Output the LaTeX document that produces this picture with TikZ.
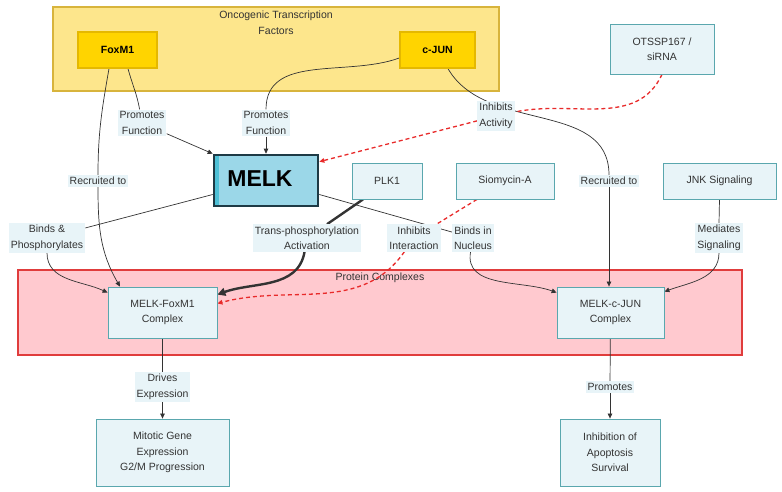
\documentclass[tikz,border=0pt]{standalone}
\usepackage{fontspec}
\setmainfont{Liberation Sans}
\usepackage{xcolor}
\usepackage{tikz}
\usetikzlibrary{arrows.meta}
\usetikzlibrary{backgrounds}
\definecolor{txt}{HTML}{333333}
\definecolor{boxfill}{HTML}{E8F4F8}
\definecolor{boxline}{HTML}{5AA7AE}
\definecolor{grpyfill}{HTML}{FDE68C}
\definecolor{grpyline}{HTML}{D8B43C}
\definecolor{tffill}{HTML}{FFD400}
\definecolor{tfline}{HTML}{E5B800}
\definecolor{grprfill}{HTML}{FFC9CF}
\definecolor{grprline}{HTML}{E03C3C}
\definecolor{melkfill}{HTML}{9BD7E8}
\definecolor{melkbar}{HTML}{4EC0D6}
\definecolor{melkline}{HTML}{1E3A45}
\definecolor{lnk}{HTML}{333333}
\definecolor{inhib}{HTML}{E82A2A}
\newcommand\lblsize{\fontsize{10.5}{15.5}\selectfont}
\tikzset{
  basenode/.style = {align=center, text=txt, font=\lblsize, inner sep=2pt},
  grp_y/.style = {draw=grpyline, fill=grpyfill, line width=1.5pt},% groupe jaune
  grp_r/.style = {draw=grprline, fill=grprfill, line width=1.5pt},% groupe rose
  tf/.style = {basenode, draw=tfline, fill=tffill, line width=1.3pt,
    font=\lblsize\bfseries, text=black},% facteur de transcription
  box/.style = {basenode, draw=boxline, fill=boxfill, line width=0.8pt},
  lbl/.style = {basenode, fill=boxfill},% etiquette d'arete
  melk/.style = {basenode, draw=melkline, fill=melkfill, line width=2.6pt,
    text=black, font=\fontsize{23}{26}\selectfont\bfseries,
    path picture={\fill[melkbar] (path picture bounding box.north west)
      rectangle ([xshift=5pt]path picture bounding box.south west);}},
  edge_n/.style = {draw=lnk, line width=0.7pt},
  edge_t/.style = {draw=lnk, line width=2.4pt},
  edge_d/.style = {draw=inhib, line width=1.3pt, dash pattern=on 4pt off 3pt}
}

\begin{document}
\begin{tikzpicture}[x=1pt,y=1pt,>={Triangle[length=5pt,width=4.5pt]}]
\useasboundingbox (0,0) rectangle (782,-492);

% noeuds
\node [tf, minimum width=79pt, minimum height=36pt] (fox) at (117.5,-50) {FoxM1};
\node [tf, minimum width=75pt, minimum height=36pt] (cjun) at (437.5,-50) {c-JUN};
\node [box, minimum width=104pt, minimum height=50pt] (ots) at (662,-49) {OTSSP167 /\\siRNA};
\node [melk, minimum width=104pt, minimum height=51pt] (mk) at (266,-180.5) {\raisebox{3pt}{MELK}\hspace*{12pt}};
\node [box, minimum width=70pt, minimum height=36pt] (plk) at (387,-181) {PLK1};
\node [box, minimum width=98pt, minimum height=36pt] (sio) at (505,-181) {Siomycin-A};
\node [box, minimum width=113pt, minimum height=36pt] (jnk) at (719.5,-181) {JNK Signaling};
\node [box, minimum width=109pt, minimum height=51pt] (fc) at (162.5,-312.5) {MELK-FoxM1\\Complex};
\node [box, minimum width=107pt, minimum height=51pt] (cj) at (610.5,-312.5) {MELK-c-JUN\\Complex};
\node [box, minimum width=133pt, minimum height=67pt] (mit) at (162.5,-452.5) {Mitotic Gene\\Expression\\G2/M Progression};
\node [box, minimum width=100pt, minimum height=67pt] (inh) at (610,-452.5) {Inhibition of\\Apoptosis\\Survival};

% etiquettes
\node [lbl] (lp1) at (142,-123) {Promotes\\Function};
\node [lbl] (lp2) at (266,-123) {Promotes\\Function};
\node [lbl] (lia) at (496,-116) {Inhibits\\Activity};
\node [lbl] (lr1) at (98,-181) {Recruited to};
\node [lbl] (lr2) at (609,-181) {Recruited to};
\node [lbl] (lbp) at (47,-238) {Binds \&\\Phosphorylates};
\node [lbl] (lt) at (307,-238) {Trans-phosphorylation\\Activation};
\node [lbl] (lii) at (414,-238) {Inhibits\\Interaction};
\node [lbl] (lbn) at (473,-238) {Binds in\\Nucleus};
\node [lbl] (lms) at (719,-238) {Mediates\\Signaling};
\node [lbl] (lde) at (162.5,-387) {Drives\\Expression};
\node [lbl] (lpr) at (610,-387) {Promotes};

\begin{scope}[on background layer]
% groupes
\node [grp_y, minimum width=446pt, minimum height=84pt] (gtf) at (276,-49) {};
\node [grp_r, minimum width=724pt, minimum height=85pt] (gpc) at (380,-312.5) {};
\node [basenode, fill=none] (tgtf) at (276,-22.5) {Oncogenic Transcription\\Factors};
\node [basenode, fill=none] (tgpc) at (380,-278) {Protein Complexes};

% aretes
\draw [edge_n] ([xshift=10.5pt]fox.south) to[out=-75,in=100] (lp1);
\draw [edge_n,->] (lp1) -- (mk.north west);
\draw [edge_n] ([yshift=-8pt]cjun.west) to[out=200,in=90] (lp2);
\draw [edge_n,->] (lp2) -- (mk.north);
\draw [edge_n] ([xshift=-8.5pt]fox.south) to[out=-100,in=90] (lr1);
\draw [edge_n,->] (lr1) to[out=-90,in=120] ([xshift=-42.5pt]fc.north);
\draw [edge_n] ([xshift=10.5pt]cjun.south) to[out=-60,in=90] (lr2);
\draw [edge_n,->] (lr2.south) -- (lr2.south |- cj.north);
\draw [edge_n] ([yshift=-14pt]mk.west) -- (lbp);
\draw [edge_n,->] (lbp) to[out=-90,in=155] ([yshift=-6pt]fc.north west);
\draw [edge_t] ([xshift=-24pt]plk.south) -- (lt);
\draw [edge_t,-{Triangle[length=8pt,width=8pt]}] (lt) to[out=-100,in=20] ([yshift=-8pt]fc.north east);
\draw [edge_d] ([xshift=-28pt]sio.south) -- (lii);
\draw [edge_d,->] (lii) to[out=-125,in=15] ([yshift=9pt]fc.east);
\draw [edge_n] ([yshift=-14pt]mk.east) -- (lbn);
\draw [edge_n,->] (lbn) to[out=-100,in=160] ([yshift=-6pt]cj.north west);
\draw [edge_n] (jnk.south) -- (lms.north);
\draw [edge_n,->] (lms) to[out=-90,in=20] ([yshift=-5pt]cj.north east);
\draw [edge_d] (ots.south) to[out=-115,in=12] (lia);
\draw [edge_d,->] (lia) -- ([yshift=-8pt]mk.north east);
\draw [edge_n] (fc) -- (lde);
\draw [edge_n,->] (lde) -- (mit);
\draw [edge_n] (cj) -- (lpr);
\draw [edge_n,->] (lpr) -- (inh);
\end{scope}
\end{tikzpicture}
\end{document}
